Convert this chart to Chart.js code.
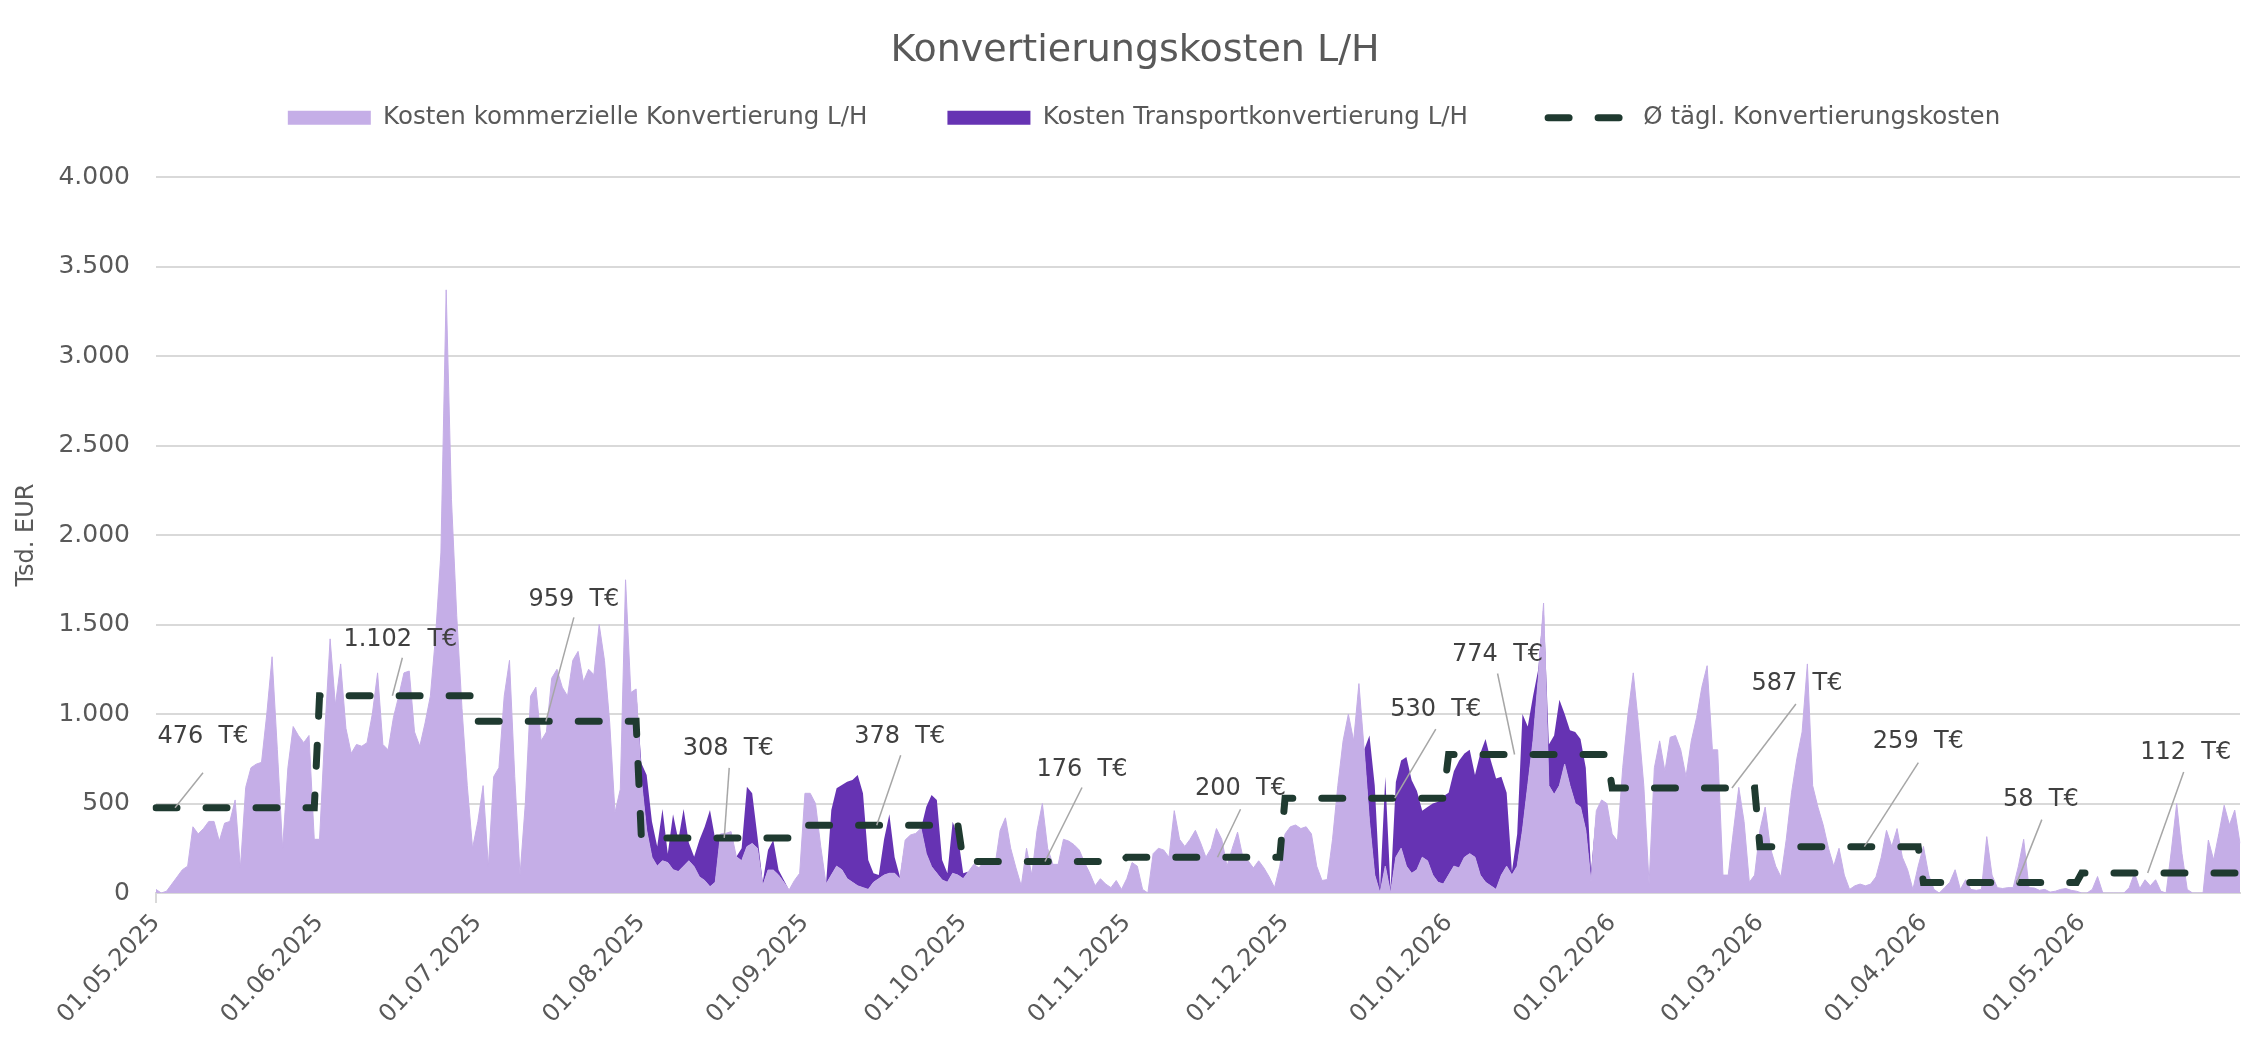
<!DOCTYPE html>
<html lang="de">
<head>
<meta charset="utf-8">
<title>Konvertierungskosten L/H</title>
<script src="https://cdn.jsdelivr.net/npm/chart.js@4.4.1/dist/chart.umd.min.js"></script>
<style>
  html, body { margin: 0; padding: 0; background: #fff; overflow: hidden; }
  #wrap { width: 2252px; height: 1046px; position: relative; }
</style>
</head>
<body>
<div id="wrap"><canvas id="myChart"></canvas></div>
<script>
// first day of every month on the x axis, and the number of days in it
const monthTicks = ['01.05.2025', '01.06.2025', '01.07.2025', '01.08.2025', '01.09.2025', '01.10.2025',
    '01.11.2025', '01.12.2025', '01.01.2026', '01.02.2026', '01.03.2026', '01.04.2026', '01.05.2026'];
const monthDays = [31, 30, 31, 31, 30, 31, 30, 31, 31, 28, 31, 30, 31];

// Ø daily conversion cost per month (T€)
const monthlyAvg = [476, 1102, 959, 308, 378, 176, 200, 530, 774, 587, 259, 58, 112];

// daily cost, commercial conversion (Tsd. EUR)
const commercialCost = [
    // May 2025
    20, 0, 10, 50, 90, 130, 150, 370, 330, 360,
    400, 400, 290, 390, 400, 520, 140, 590, 700, 720,
    730, 1000, 1320, 800, 250, 700, 930, 880, 840, 880,
    300,
    // Jun 2025
    300, 900, 1420, 1050, 1280, 920, 780, 830, 820, 840,
    1000, 1230, 830, 800, 980, 1100, 1230, 1240, 900, 820,
    950, 1100, 1440, 1900, 3370, 2200, 1550, 1030, 600, 250,
    // Jul 2025
    400, 600, 150, 650, 700, 1100, 1300, 650, 100, 500,
    1100, 1150, 850, 900, 1200, 1250, 1150, 1100, 1300, 1350,
    1180, 1250, 1220, 1500, 1300, 950, 450, 580, 1750, 1120,
    1140,
    // Aug 2025
    630, 350, 200, 150, 180, 170, 130, 120, 150, 180,
    147, 90, 70, 35, 60, 330, 333, 343, 203, 180,
    259, 277, 250, 40, 128, 128, 100, 60, 17, 70,
    110,
    // Sep 2025
    557, 557, 500, 259, 50, 100, 150, 130, 80, 60,
    40, 30, 20, 60, 80, 100, 110, 110, 80, 296,
    324, 333, 361, 220, 147, 110, 73, 60, 110, 100,
    // Oct 2025
    80, 120, 160, 140, 180, 190, 150, 350, 420, 250,
    140, 40, 250, 100, 350, 500, 250, 160, 160, 300,
    290, 270, 240, 170, 110, 40, 80, 50, 30, 70,
    20,
    // Nov 2025
    80, 170, 150, 20, 0, 220, 250, 240, 200, 460,
    300, 260, 300, 350, 280, 200, 250, 360, 300, 150,
    250, 340, 200, 180, 140, 180, 140, 90, 30, 150,
    // Dec 2025
    330, 370, 380, 360, 370, 330, 150, 70, 75, 300,
    600, 850, 1000, 850, 1170, 800, 400, 100, 0, 150,
    0, 200, 250, 150, 110, 130, 200, 180, 100, 60,
    50,
    // Jan 2026
    100, 150, 140, 200, 220, 200, 100, 60, 40, 20,
    100, 150, 100, 150, 350, 600, 850, 1200, 1620, 600,
    550, 600, 720, 600, 500, 480, 350, 60, 460, 520,
    500,
    // Feb 2026
    330, 290, 700, 1000, 1230, 940, 600, 50, 700, 850,
    680, 870, 880, 800, 650, 850, 980, 1150, 1270, 800,
    800, 100, 100, 350, 590, 400, 60, 100,
    // Mar 2026
    350, 480, 250, 150, 90, 300, 560, 750, 900, 1280,
    600, 480, 380, 250, 150, 250, 100, 20, 40, 50,
    40, 50, 90, 200, 350, 260, 360, 200, 130, 20,
    150,
    // Apr 2026
    260, 100, 20, 0, 30, 60, 130, 20, 74, 20,
    15, 20, 315, 100, 30, 25, 30, 30, 150, 300,
    30, 28, 15, 20, 5, 10, 20, 25, 15, 10,
    // May 2026
    0, 0, 20, 92, 0, 0, 0, 0, 0, 30,
    111, 25, 74, 40, 74, 10, 0, 240, 500, 222,
    20, 0, 0, 0, 296, 185, 333, 490, 380, 463,
    278
];

// daily cost, transport conversion (Tsd. EUR), stacked on top of the commercial one
const transportCost = [
    // May 2025
    0, 0, 0, 0, 0, 0, 0, 0, 0, 0,
    0, 0, 0, 0, 0, 0, 0, 0, 0, 0,
    0, 0, 0, 0, 0, 0, 0, 0, 0, 0,
    0,
    // Jun 2025
    0, 0, 0, 0, 0, 0, 0, 0, 0, 0,
    0, 0, 0, 0, 0, 0, 0, 0, 0, 0,
    0, 0, 0, 0, 0, 0, 0, 0, 0, 0,
    // Jul 2025
    0, 0, 0, 0, 0, 0, 0, 0, 0, 0,
    0, 0, 0, 0, 0, 0, 0, 0, 0, 0,
    0, 0, 0, 0, 0, 0, 0, 0, 0, 0,
    0,
    // Aug 2025
    95, 310, 200, 110, 290, 50, 310, 176, 320, 100,
    56, 206, 300, 429, 240, 0, 0, 0, 0, 70,
    335, 280, 65, 20, 112, 168, 28, 13, 0, 0,
    0,
    // Sep 2025
    0, 0, 0, 0, 0, 364, 435, 473, 542, 571,
    619, 527, 164, 50, 20, 200, 330, 90, 11, 0,
    0, 0, 0, 262, 400, 410, 111, 50, 288, 215,
    // Oct 2025
    30, 0, 0, 0, 0, 0, 0, 0, 0, 0,
    0, 0, 0, 0, 0, 0, 0, 0, 0, 0,
    0, 0, 0, 0, 0, 0, 0, 0, 0, 0,
    0,
    // Nov 2025
    0, 0, 0, 0, 0, 0, 0, 0, 0, 0,
    0, 0, 0, 0, 0, 0, 0, 0, 0, 0,
    0, 0, 0, 0, 0, 0, 0, 0, 0, 0,
    // Dec 2025
    0, 0, 0, 0, 0, 0, 0, 0, 0, 0,
    0, 0, 0, 0, 0, 0, 480, 500, 20, 500,
    20, 420, 490, 610, 520, 440, 260, 300, 400, 450,
    490,
    // Jan 2026
    460, 530, 600, 580, 580, 460, 680, 800, 700, 620,
    550, 410, 20, 180, 650, 330, 250, 50, 0, 230,
    330, 480, 280, 310, 400, 380, 350, 60, 0, 0,
    0,
    // Feb 2026
    0, 0, 0, 0, 0, 0, 0, 0, 0, 0,
    0, 0, 0, 0, 0, 0, 0, 0, 0, 0,
    0, 0, 0, 0, 0, 0, 0, 0,
    // Mar 2026
    0, 0, 0, 0, 0, 0, 0, 0, 0, 0,
    0, 0, 0, 0, 0, 0, 0, 0, 0, 0,
    0, 0, 0, 0, 0, 0, 0, 0, 0, 0,
    0,
    // Apr 2026
    0, 0, 0, 0, 0, 0, 0, 0, 0, 0,
    0, 0, 0, 0, 0, 0, 0, 0, 0, 0,
    0, 0, 0, 0, 0, 0, 0, 0, 0, 0,
    // May 2026
    0, 0, 0, 0, 0, 0, 0, 0, 0, 0,
    0, 0, 0, 0, 0, 0, 0, 0, 0, 0,
    0, 0, 0, 0, 0, 0, 0, 0, 0, 0,
    0
];

// one label per day, and the monthly average repeated on each day of its month
const dayLabels = [];
const avgDaily = [];
monthTicks.forEach((tick, m) => {
    for (let d = 1; d <= monthDays[m]; d++) {
        dayLabels.push(String(d).padStart(2, '0') + tick.slice(2));
        avgDaily.push(monthlyAvg[m]);
    }
});
if (commercialCost.length !== dayLabels.length || transportCost.length !== dayLabels.length) {
    console.warn('length mismatch', dayLabels.length, commercialCost.length, transportCost.length);
}

const fmt = v => String(v).replace(/\B(?=(\d{3})+(?!\d))/g, '.');
const isMonthStart = i => dayLabels[i] && dayLabels[i].startsWith('01.');

const LIGHT = '#c5aee7';
const DARK = '#6633b3';
const AVG = '#1f3a30';
const GRID = '#d9d9d9';
const TEXT = '#595959';

Chart.defaults.font.family = '"DejaVu Sans", sans-serif';
Chart.defaults.color = TEXT;

// callout placement: anchor day on the dashed line, label offset, leader start offset (px)
const calloutLayout = [
    [3.6, 28, -71, 28, -35],
    [44.8, 8, -56, 10, -38],
    [73.9, 28, -122, 28, -104],
    [107.7, 4, -89, 5, -70],
    [136.6, 23, -89, 24, -70],
    [168.5, 37, -92, 37, -74],
    [201.2, 23, -68, 23, -48],
    [234.8, 41, -88, 41, -69],
    [257.5, -17, -100, -17, -81],
    [298.7, 65, -104, 64, -84],
    [323.8, 54, -105, 54, -84],
    [352.7, 24, -83, 25, -63],
    [377.5, 38, -120, 36, -101],
];

const callouts = {
    id: 'callouts',
    afterDatasetsDraw(chart) {
        const { ctx, scales: { x, y } } = chart;
        ctx.save();
        ctx.font = '24px "DejaVu Sans"';
        ctx.textAlign = 'center';
        ctx.textBaseline = 'middle';
        calloutLayout.forEach(([day, tx, ty, lx, ly], m) => {
            const ax = x.getPixelForValue(day);
            const ay = y.getPixelForValue(monthlyAvg[m]);
            ctx.strokeStyle = '#a6a6a6';
            ctx.lineWidth = 1.5;
            ctx.beginPath();
            ctx.moveTo(ax + lx, ay + ly);
            ctx.lineTo(ax, ay);
            ctx.stroke();
            ctx.fillStyle = '#404040';
            ctx.fillText(fmt(monthlyAvg[m]) + '  T€', ax + tx, ay + ty);
        });
        ctx.restore();
    }
};

// extra room between legend and plot, and title / legend nudged a little to the right
const legendSpacer = {
    id: 'legendSpacer',
    beforeInit(chart) {
        const fit = chart.legend.fit;
        chart.legend.fit = function () {
            fit.bind(chart.legend)();
            this.height += 37;
        };
    },
    afterLayout(chart) {
        chart.legend.left += 24;
        chart.legend.right += 24;
        chart.titleBlock.left += 15;
        chart.titleBlock.right += 15;
    }
};

const legendGap = '         ';

const data = {
    labels: dayLabels,
    datasets: [{
        label: 'Kosten kommerzielle Konvertierung L/H',
        data: commercialCost,
        backgroundColor: LIGHT,
        borderColor: LIGHT,
        borderWidth: 1,
        fill: 'origin',
        pointRadius: 0,
        tension: 0,
        stack: 'kosten',
        order: 1,
    }, {
        label: 'Kosten Transportkonvertierung L/H',
        data: transportCost,
        backgroundColor: DARK,
        borderColor: 'rgba(0,0,0,0)',
        borderWidth: 1,
        fill: '-1',
        pointRadius: 0,
        tension: 0,
        stack: 'kosten',
        order: 1,
    }, {
        label: 'Ø tägl. Konvertierungskosten',
        data: avgDaily,
        borderColor: AVG,
        backgroundColor: 'rgba(0,0,0,0)',
        borderWidth: 7,
        borderDash: [21, 29],
        borderCapStyle: 'round',
        fill: false,
        pointRadius: 0,
        tension: 0,
        stack: 'avg',
        order: 0,
    }],
};

const config = {
    type: 'line',
    data: data,
    options: {
        responsive: true,
        maintainAspectRatio: false,
        animation: false,
        events: [],
        layout: { padding: { left: 0, right: 12, top: 0, bottom: 0 } },
        plugins: {
            title: {
                display: true,
                text: 'Konvertierungskosten L/H',
                color: TEXT,
                font: { size: 38, weight: 'normal' },
                padding: { top: 28, bottom: 22 },
            },
            legend: {
                display: true,
                labels: {
                    font: { size: 24.5 },
                    color: TEXT,
                    usePointStyle: true,
                    pointStyleWidth: 83,
                    boxHeight: 14,
                    padding: 10,
                    generateLabels: chart => chart.data.datasets.map((ds, i) => ({
                        text: ds.label + (i < 2 ? legendGap : ''),
                        fillStyle: i < 2 ? ds.backgroundColor : 'rgba(0,0,0,0)',
                        strokeStyle: i < 2 ? ds.backgroundColor : ds.borderColor,
                        lineWidth: i < 2 ? 0 : 7,
                        lineDash: i < 2 ? [] : ds.borderDash,
                        lineCap: i < 2 ? 'butt' : 'round',
                        pointStyle: i < 2 ? 'rect' : 'line',
                        fontColor: TEXT,
                        hidden: false,
                        datasetIndex: i,
                    })),
                },
            },
            tooltip: { enabled: false },
        },
        scales: {
            x: {
                afterFit: s => { s.height = 153; },
                border: { display: true, color: GRID, width: 2 },
                grid: {
                    drawOnChartArea: false,
                    drawTicks: true,
                    tickLength: 10,
                    lineWidth: 2,
                    color: c => (isMonthStart(c.index) || c.index === dayLabels.length - 1) ? GRID : 'rgba(0,0,0,0)',
                },
                ticks: {
                    autoSkip: false,
                    minRotation: 47,
                    maxRotation: 47,
                    padding: 6,
                    color: TEXT,
                    font: { size: 24 },
                    callback: (value, index) => isMonthStart(index) ? dayLabels[index] : null,
                },
            },
            y: {
                stacked: true,
                min: 0,
                max: 4000,
                afterFit: s => { s.width = 156; },
                border: { display: false },
                grid: { color: GRID, lineWidth: 2, drawTicks: false },
                ticks: {
                    stepSize: 500,
                    padding: 26,
                    color: TEXT,
                    font: { size: 25 },
                    callback: v => fmt(v),
                },
                title: {
                    display: true,
                    text: 'Tsd. EUR',
                    color: TEXT,
                    font: { size: 24 },
                    padding: { top: 12, bottom: 0 },
                },
            },
        },
    },
    plugins: [legendSpacer, callouts],
};

const ctx = document.getElementById('myChart').getContext('2d');
const myChart = new Chart(ctx, config);
</script>
</body>
</html>
